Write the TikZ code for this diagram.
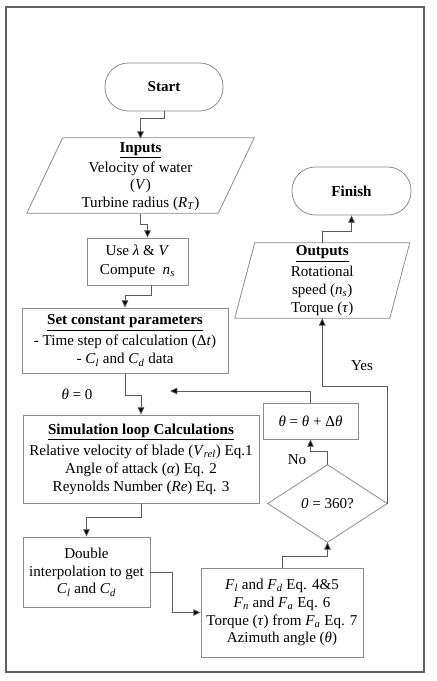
\documentclass[tikz,border=0pt]{standalone}
\usepackage{fontspec}
\setmainfont{Liberation Serif}
\usetikzlibrary{arrows.meta,calc}
\definecolor{boxgray}{HTML}{8C8C8C}
\definecolor{linegray}{HTML}{5A5A5A}
\definecolor{framegray}{HTML}{606060}
\newcommand\vit[1]{\textit{#1}}
\newcommand\subit[2]{\textit{#1}\textsubscript{\textit{#2}}}
\newcommand\headul[1]{\underline{\textbf{#1}}}
\begin{document}
\begin{tikzpicture}[x=0.75pt,y=-0.75pt,
  font=\fontsize{11.3}{13.4}\selectfont,
  box/.style={draw=boxgray,line width=0.6pt,rectangle,align=center,inner sep=0pt},
  ghost/.style={rectangle,align=center,inner sep=0pt},
  term/.style={draw=boxgray,line width=0.6pt,rectangle,rounded corners=17.5pt,align=center,inner sep=0pt,font=\fontsize{11.3}{13.4}\selectfont\bfseries},
  shapeline/.style={draw=boxgray,line width=0.6pt},
  conn/.style={draw=linegray,line width=0.6pt,-{Triangle[length=5.5pt,width=5pt,fill=black]}},
  lbl/.style={inner sep=0pt}]
\useasboundingbox (0,0) rectangle (436,681);
% frame
\draw[framegray,line width=1.6pt] (6,7) rectangle (424,672);

% nodes
\node[term,minimum width=88.5pt,minimum height=36pt] (start) at (164,87) {Start};
\node[term,minimum width=89.25pt,minimum height=36pt] (fin) at (351.5,191) {Finish};

\node[ghost,minimum width=143.25pt,minimum height=56.25pt] (in) at (140.5,176.5)
  {\headul{Inputs}\\[2pt]Velocity of water\\[-1pt](\vit{V})\\Turbine radius (\subit{R}{T})};
\draw[shapeline] ([xshift=13.5pt,yshift=0.75pt]in.north west) -- ([xshift=13.5pt,yshift=0.75pt]in.north east)
  -- ([xshift=-13.5pt,yshift=0.75pt]in.south east) -- ([xshift=-13.5pt,yshift=0.75pt]in.south west) -- cycle;

\node[ghost,minimum width=115.9pt,minimum height=56.25pt] (out) at (322.25,280.5)
  {\headul{Outputs}\\[2pt]Rotational\\speed (\subit{n}{s})\\Torque (\vit{τ})};
\draw[shapeline] ([xshift=7.5pt]out.north west) -- ([xshift=7.5pt]out.north east)
  -- ([xshift=-7.5pt]out.south east) -- ([xshift=-7.5pt]out.south west) -- cycle;

\node[box,minimum width=75.75pt,minimum height=35.25pt] (use) at (137.5,261.5)
  {Use \vit{λ} \& \vit{V}\\[1pt]Compute\enspace\subit{n}{s}};

\node[box,minimum width=154.5pt,minimum height=48.75pt] (set) at (125,340.5)
  {\headul{Set constant parameters}\\[2.5pt]- Time step of calculation (Δ\vit{t})\\- \subit{C}{l} and \subit{C}{d} data};

\node[box,minimum width=177pt,minimum height=66pt] (sim) at (141,459)
  {\headul{Simulation loop Calculations}\\[2.5pt]Relative velocity of blade (\subit{V}{rel}) Eq.1\\Angle of attack (\vit{α}) Eq. 2\\Reynolds Number (\vit{Re}) Eq. 3};

\node[box,minimum width=95.25pt,minimum height=52.5pt] (dbl) at (86.5,572)
  {Double\\interpolation to get\\\subit{C}{l} and \subit{C}{d}};

\node[box,minimum width=121.5pt,minimum height=66.75pt] (fl) at (282,612.5)
  {\subit{F}{l} and \subit{F}{d} Eq. 4\&5\\\subit{F}{n} and \subit{F}{a} Eq. 6\\Torque (\vit{τ}) from \subit{F}{a} Eq. 7\\Azimuth angle (\vit{θ})};

\node[ghost,minimum width=89.25pt,minimum height=57.75pt] (dec) at (327.5,503.5) {\vit{0} = 360?};
\draw[shapeline] (dec.north) -- (dec.east) -- (dec.south) -- (dec.west) -- cycle;

\node[box,minimum width=71.25pt,minimum height=27pt] (th) at (310.5,421) {\vit{θ} = \vit{θ} + Δ\vit{θ}};

\coordinate (loopin) at (170,391);

% labels
\node[lbl] (l0) at (77,394) {\vit{θ} = 0};
\node[lbl] (lno) at (297,460) {No};
\node[lbl] (lyes) at (362,366) {Yes};

% connectors
\draw[conn] (start.south) -- ++(0,7) -| (in.north);
\draw[conn] (in.south) -- ++(0,10) -| ([xshift=7.5pt]use.north);
\draw[conn] ([xshift=10.5pt]use.south) -- ++(0,10) -| (set.north);
\draw[conn] (set.south) -- ++(0,22) -| (sim.north);
\draw[conn] (sim.south) -- ++(0,14) -| (dbl.north);
\draw[conn] (dbl.east) -- ++(22,0) |- (fl.west);
\draw[conn] (fl.north) -- ++(0,-11) -| (dec.south);
\draw[conn] (dec.north) -- ++(0,-13) -| (th.south);
\draw[conn] (th.north) |- (loopin);
\draw[conn] (dec.east) -- ++(0,-117.5) -| (out.south);
\draw[conn] (out.north) -- ++(0,-11) -| (fin.south);
\end{tikzpicture}
\end{document}
